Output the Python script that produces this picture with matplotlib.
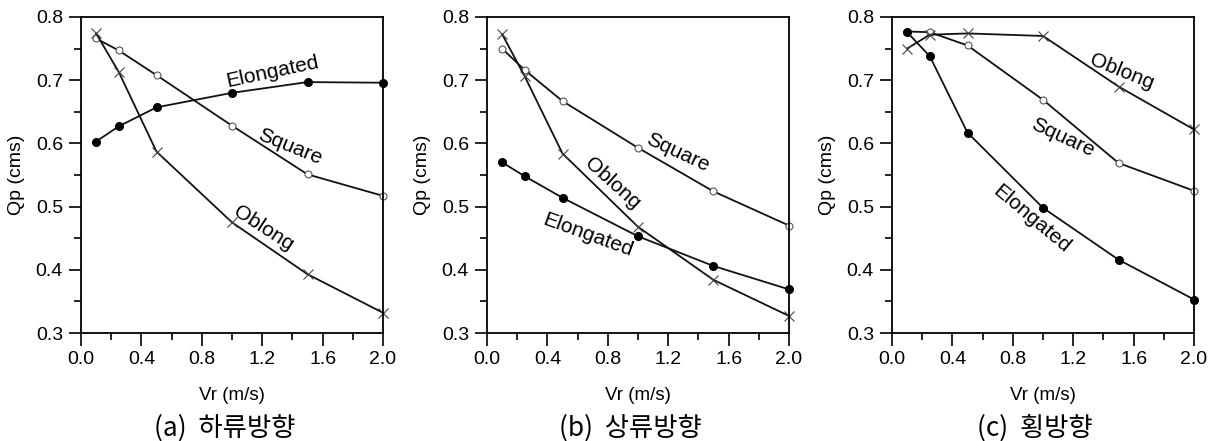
import matplotlib
matplotlib.use("Agg")
import matplotlib.pyplot as plt
from matplotlib.ticker import MultipleLocator

plt.rcParams['font.family'] = ['Liberation Sans', 'DejaVu Sans']

vr = [0.1, 0.25, 0.5, 1.0, 1.5, 2.0]

# (a) downstream
a_elong = [0.603, 0.627, 0.657, 0.680, 0.697, 0.696]
a_square = [0.766, 0.747, 0.708, 0.628, 0.551, 0.517]
a_oblong = [0.774, 0.713, 0.587, 0.475, 0.393, 0.332]
# (b) upstream
b_elong = [0.570, 0.548, 0.514, 0.453, 0.406, 0.369]
b_square = [0.750, 0.716, 0.667, 0.593, 0.524, 0.470]
b_oblong = [0.773, 0.706, 0.584, 0.468, 0.384, 0.327]
# (c) lateral
c_elong = [0.776, 0.738, 0.617, 0.498, 0.416, 0.353]
c_square = [0.777, 0.776, 0.755, 0.669, 0.569, 0.525]
c_oblong = [0.750, 0.772, 0.774, 0.770, 0.690, 0.622]

captions = ['(a)  하류방향', '(b)  상류방향', '(c)  횡방향']
xticks = [0.0, 0.4, 0.8, 1.2, 1.6, 2.0]
yticks = [0.3, 0.4, 0.5, 0.6, 0.7, 0.8]

# label placement (x, y, rotation) per panel: Elongated, Square, Oblong
label_pos = [
    [(1.265, 0.713, 12), (1.384, 0.595, -22), (1.205, 0.465, -33)],
    [(0.669, 0.455, -20), (1.265, 0.586, -25), (0.828, 0.537, -42)],
    [(0.927, 0.480, -40), (1.132, 0.609, -25), (1.523, 0.713, -22)],
]

data = [(a_elong, a_square, a_oblong), (b_elong, b_square, b_oblong), (c_elong, c_square, c_oblong)]

fig = plt.figure(figsize=(12.2, 4.41), dpi=100)
W, H = 1220, 441
lefts = [81, 487, 892]
caption_centers = [225, 630, 1035]
for i in range(3):
    ax = fig.add_axes([lefts[i] / W, 1 - 333 / H, 302 / W, 316 / H])
    el, sq, ob = data[i]
    ax.plot(vr, el, color='#111111', lw=1.3, marker='o', ms=5.5, mfc='black', mec='black',
            zorder=3, clip_on=False)
    ax.plot(vr, sq, color='#111111', lw=1.3, marker='o', ms=5, mfc='white', mec='#555555',
            mew=0.8, zorder=2, clip_on=False)
    ax.plot(vr, ob, color='#111111', lw=1.3, marker='x', ms=7, mec='#444444', mew=0.8,
            zorder=2, clip_on=False)
    ax.set_xlim(0, 2.0)
    ax.set_ylim(0.3, 0.8)
    ax.set_xticks(xticks)
    ax.set_xticklabels([f'{t:.1f}' for t in xticks])
    ax.set_yticks(yticks)
    ax.set_yticklabels([f'{t:.1f}' for t in yticks])
    ax.xaxis.set_minor_locator(MultipleLocator(0.2))
    ax.yaxis.set_minor_locator(MultipleLocator(0.05))
    ax.tick_params(which='major', direction='out', length=9, width=1.2, labelsize=14, pad=4)
    ax.tick_params(which='minor', direction='out', length=5, width=1.2)
    for s in ax.spines.values():
        s.set_linewidth(1.3)
    ax.set_xlabel('Vr (m/s)', fontsize=13.5, labelpad=14)
    ax.set_ylabel('Qp (cms)', fontsize=14, labelpad=8)
    for name, (x, y, r) in zip(['Elongated', 'Square', 'Oblong'], label_pos[i]):
        ax.text(x, y, name, rotation=r, ha='center', va='center', fontsize=15,
                rotation_mode='anchor')
    fig.text(caption_centers[i] / W, 1 - 428 / H, captions[i], ha='center', va='center',
             fontsize=19, family=['Noto Sans CJK KR', 'DejaVu Sans'])

fig.savefig('out.png', dpi=100, facecolor='white')
